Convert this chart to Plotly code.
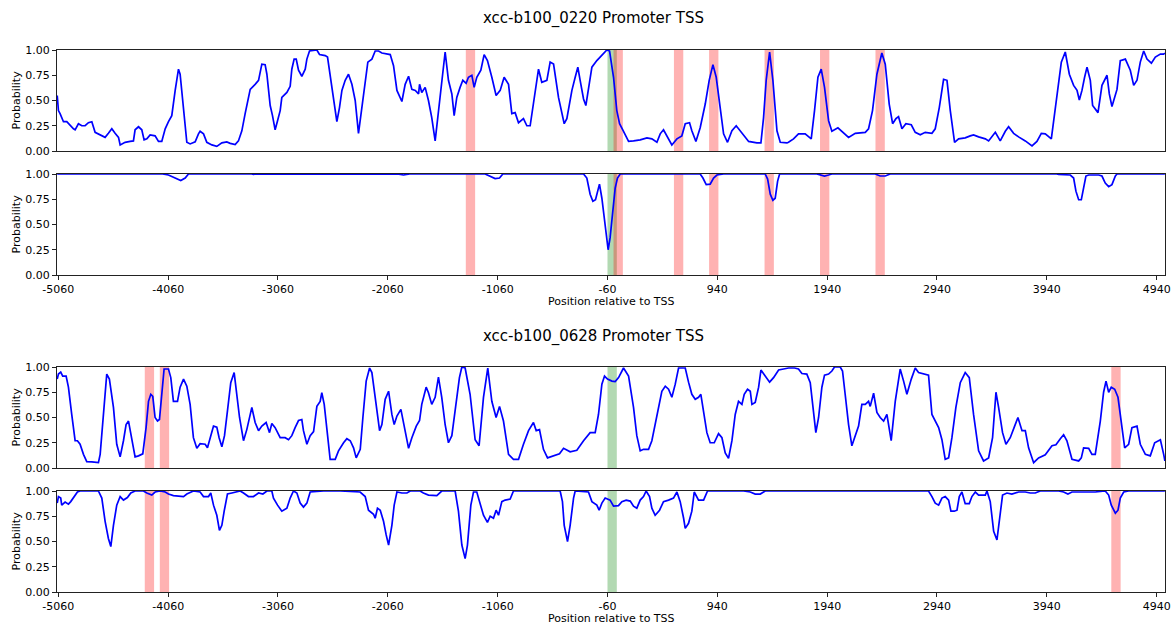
import plotly.graph_objects as go

# ---------------------------------------------------------------------------
# xcc-b100_0220 : upper track (promoter probability) and lower track
# ---------------------------------------------------------------------------
pos_0220_upper = [
    -5070, -5059, -5044, -5029, -5013, -4983, -4953, -4922, -4907, -4877, -4846, -4816, -4786, -4755,
    -4725, -4679, -4634, -4604, -4573, -4543, -4512, -4497, -4452, -4406, -4376, -4361, -4330, -4300,
    -4279, -4254, -4224, -4179, -4148, -4118, -4087, -4057, -4027, -3996, -3966, -3951, -3920, -3890,
    -3860, -3814, -3784, -3769, -3738, -3708, -3662, -3617, -3571, -3526, -3495, -3450, -3420, -3389,
    -3359, -3313, -3268, -3237, -3207, -3177, -3161, -3131, -3110, -3086, -3064, -3040, -3025, -2979,
    -2949, -2934, -2913, -2894, -2873, -2843, -2812, -2797, -2773, -2706, -2682, -2630, -2609, -2585,
    -2554, -2524, -2500, -2478, -2448, -2418, -2387, -2357, -2327, -2296, -2266, -2242, -2205, -2175,
    -2144, -2114, -2038, -2008, -1977, -1932, -1902, -1871, -1841, -1810, -1780, -1771,
    -1751, -1720, -1690, -1660, -1629, -1599, -1569, -1538, -1508, -1477, -1456, -1432, -1402, -1377,
    -1347, -1326, -1295, -1274, -1250, -1213, -1183, -1153, -1113, -1074, -1037, -1001, -961, -931,
    -901, -870, -825, -794, -764, -728, -688, -658, -612, -582, -551, -506, -454, -430, -384, -354,
    -330, -309, -278, -257, -233, -202, -157, -126, -96, -66, -41, -5, 25, 50, 86, 132, 177, 238, 299,
    344, 390, 420, 450, 481, 526, 572, 617, 648, 687, 708, 745, 784, 830, 866, 900, 930, 966, 997,
    1033, 1073, 1112, 1149, 1179, 1225, 1300, 1337, 1361, 1385, 1416, 1446, 1483, 1513, 1574,
    1588, 1634, 1679, 1740, 1795, 1825, 1856, 1886, 1916, 1953, 1983, 2038, 2074, 2135, 2196, 2287,
    2317, 2353, 2393, 2438, 2469, 2505, 2536, 2566, 2590, 2621, 2657, 2706, 2742, 2788, 2833, 2894,
    2924, 2961, 3000, 3031, 3061, 3100, 3137, 3197, 3243, 3273, 3319, 3380, 3410, 3471, 3516, 3562,
    3592, 3638, 3683, 3744, 3805, 3850, 3890, 3926, 3981, 4011, 4041, 4072, 4108, 4145, 4184, 4215,
    4236, 4260, 4284, 4306, 4336, 4357, 4406, 4442, 4488, 4509, 4533, 4579, 4609, 4655, 4700, 4731,
    4761, 4791, 4822, 4852, 4892, 4928, 4974, 5004, 5015,
]
prob_0220_upper = [
    0.55, 0.40, 0.37, 0.32, 0.29, 0.29, 0.25, 0.22, 0.21, 0.27, 0.25, 0.25, 0.28, 0.29,
    0.185, 0.16, 0.135, 0.175, 0.22, 0.175, 0.135, 0.06, 0.086, 0.095, 0.10, 0.21, 0.24, 0.21,
    0.11, 0.12, 0.16, 0.15, 0.095, 0.095, 0.22, 0.29, 0.35, 0.60, 0.81, 0.76, 0.40, 0.086,
    0.07, 0.09, 0.17, 0.195, 0.17, 0.086, 0.06, 0.046, 0.08, 0.09, 0.076, 0.063, 0.10, 0.20,
    0.37, 0.61, 0.66, 0.70, 0.86, 0.855, 0.76, 0.45, 0.35, 0.21, 0.30, 0.40, 0.53, 0.58,
    0.64, 0.81, 0.91, 0.91, 0.80, 0.74, 0.81, 0.91, 0.99, 1.0, 0.955, 0.945, 0.93, 0.76,
    0.53, 0.29, 0.43, 0.60, 0.70, 0.76, 0.66, 0.50, 0.175, 0.43, 0.73, 0.88, 0.91, 0.99,
    0.99, 0.97, 0.955, 0.845, 0.60, 0.49, 0.66, 0.74, 0.61, 0.60, 0.565, 0.66,
    0.58, 0.63, 0.50, 0.33, 0.10, 0.40, 0.70, 0.98, 0.70, 0.565, 0.35, 0.53, 0.63, 0.70,
    0.67, 0.73, 0.75, 0.63, 0.73, 0.80, 0.955, 0.895, 0.73, 0.55, 0.60, 0.73, 0.66, 0.37,
    0.38, 0.28, 0.32, 0.25, 0.25, 0.50, 0.81, 0.68, 0.70, 0.88, 0.86, 0.53, 0.27, 0.32, 0.60, 0.73,
    0.83, 0.70, 0.515, 0.45, 0.63, 0.83, 0.895, 0.93, 0.96, 1.0, 0.99, 0.73, 0.40, 0.27, 0.195, 0.095, 0.10, 0.11, 0.13,
    0.12, 0.086, 0.17, 0.21, 0.15, 0.06, 0.12, 0.15, 0.27, 0.28, 0.20, 0.095, 0.23, 0.465, 0.70, 0.855, 0.73, 0.40, 0.17,
    0.086, 0.20, 0.25, 0.20, 0.16, 0.095, 0.08, 0.08, 0.33, 0.70, 0.98, 0.70, 0.20, 0.086, 0.08,
    0.086, 0.12, 0.17, 0.17, 0.12, 0.40, 0.73, 0.81, 0.63, 0.30, 0.195, 0.23, 0.195, 0.135, 0.175, 0.185,
    0.22, 0.40, 0.76, 0.97, 0.86, 0.465, 0.27, 0.32, 0.34, 0.22, 0.27, 0.26, 0.185, 0.16, 0.185, 0.175,
    0.22, 0.43, 0.71, 0.70, 0.40, 0.086, 0.12, 0.13, 0.15, 0.16, 0.14, 0.12, 0.10, 0.185, 0.10, 0.195,
    0.24, 0.175, 0.14, 0.10, 0.05, 0.095, 0.175, 0.17, 0.12, 0.37, 0.565, 0.88, 0.98, 0.76, 0.65, 0.60,
    0.505, 0.60, 0.73, 0.83, 0.70, 0.45, 0.38, 0.65, 0.75, 0.565, 0.44, 0.61, 0.895, 0.91, 0.80, 0.65,
    0.70, 0.88, 0.99, 0.91, 0.87, 0.93, 0.96, 0.96, 0.97,
]

pos_0220_lower = [
    -5070, -4110, -4057, -4012, -3945, -3905, -3875, -3300, -3283, -3260, -2060, -2040, -1960, -1917,
    -1886, -1860, -1174, -1128, -1083, -1043, -1013, -278, -248, -218, -193, -169, -151, -133, -111,
    -81, -54, -36, -11, 10, 31, 56, 784, 809, 839, 875, 906, 936, 997, 1376, 1398, 1422, 1446, 1467,
    1489, 1507, 1846, 1877, 1916, 1953, 1983, 2378, 2423, 2469, 2514, 4030, 4048, 4154, 4184, 4205,
    4230, 4254, 4275, 4296, 4321, 4412, 4442, 4472, 4503, 4533, 4564, 4579, 5015,
]
prob_0220_lower = [
    1.0, 1.0, 0.99, 0.97, 0.935, 0.96, 1.0, 1.0, 0.995, 1.0, 1.0, 0.995, 0.998, 0.99,
    0.995, 1.0, 1.0, 0.98, 0.955, 0.96, 1.0, 1.0, 0.96, 0.80, 0.73, 0.745, 0.83, 0.90, 0.76,
    0.48, 0.25, 0.37, 0.66, 0.86, 0.96, 1.0, 1.0, 0.96, 0.895, 0.90, 0.96, 0.99, 1.0, 1.0, 0.95, 0.80, 0.74, 0.76,
    0.93, 1.0, 1.0, 0.99, 0.98, 0.99, 1.0, 1.0, 0.98, 0.98, 1.0, 1.0, 0.995, 0.99, 0.96, 0.83,
    0.745, 0.745, 0.86, 0.98, 0.99, 0.99, 0.98, 0.91, 0.875, 0.895, 0.98, 1.0, 1.0,
]

# ---------------------------------------------------------------------------
# xcc-b100_0628 : upper and lower tracks
# ---------------------------------------------------------------------------
pos_0628_upper = [
    -5070, -5059, -5038, -5020, -4989, -4968, -4938, -4907, -4886, -4862, -4831, -4801, -4755, -4695,
    -4679, -4649, -4619, -4595, -4558, -4528, -4497, -4467, -4443, -4421, -4391, -4361, -4330, -4291,
    -4261, -4239, -4218, -4200, -4179, -4157, -4139, -4118, -4097, -4057, -4036, -4012, -3975, -3951,
    -3920, -3890, -3860, -3830, -3799, -3769, -3723, -3702, -3678, -3647, -3617, -3596, -3571, -3547,
    -3520, -3490, -3459, -3435, -3410, -3374, -3344, -3298, -3268, -3237, -3207, -3168, -3137, -3116,
    -3086, -3040, -2995, -2964, -2934, -2904, -2873, -2843, -2828, -2797, -2767, -2736, -2706, -2676,
    -2661, -2639, -2615, -2585, -2539, -2509, -2463, -2433, -2402, -2372, -2348, -2311, -2287, -2257,
    -2226, -2205, -2175, -2135, -2114, -2084, -2053, -2023, -2002, -1977, -1941, -1911, -1871, -1841,
    -1801, -1771,
    -1751, -1711, -1690, -1660, -1629, -1599, -1569, -1538, -1508, -1477, -1447, -1408, -1386, -1356,
    -1311, -1265, -1229, -1189, -1150, -1113, -1074, -1043, -1007, -961, -916, -870, -825, -779, -734,
    -709, -679, -643, -606, -552, -497, -460, -400, -339, -278, -218, -172, -142, -111, -87, -60, -20,
    10, 41, 86, 132, 177, 207, 238, 268, 314, 344, 390, 435, 466, 496, 526, 557, 587, 648, 678, 708,
    739, 769, 790, 815, 845, 875, 912, 951, 982, 1012, 1042, 1073, 1103, 1133, 1164, 1185, 1215, 1240,
    1255, 1285, 1316, 1337, 1376, 1416, 1452, 1498, 1543, 1589,
    1643, 1679, 1710, 1755, 1786, 1816, 1837, 1862, 1892, 1916, 1953, 1983, 2007, 2059, 2080, 2104,
    2135, 2165, 2196, 2226, 2256, 2287, 2317, 2332, 2363, 2393, 2423, 2454, 2484, 2523, 2560, 2605,
    2636, 2666, 2706, 2742, 2772, 2833, 2863, 2894, 2955, 2985, 3015, 3046, 3076, 3112, 3152, 3197,
    3234, 3273, 3319, 3364, 3410, 3446, 3477, 3501, 3537, 3568, 3607, 3647, 3677, 3714, 3744, 3774,
    3820, 3865, 3926, 3987, 4023, 4063, 4093, 4123, 4169, 4230, 4254, 4275, 4321, 4351, 4381, 4427,
    4457, 4479, 4503, 4527, 4558, 4588, 4618, 4649, 4685, 4715, 4761, 4791, 4837, 4882, 4922, 4952,
    4974, 5004, 5015,
]
prob_0628_upper = [
    0.88, 0.93, 0.95, 0.91, 0.91, 0.80, 0.53, 0.27, 0.27, 0.235, 0.135, 0.063, 0.06, 0.053,
    0.135, 0.565, 0.93, 0.88, 0.60, 0.235, 0.11, 0.27, 0.43, 0.465, 0.30, 0.11, 0.12, 0.14,
    0.40, 0.66, 0.73, 0.71, 0.50, 0.465, 0.48, 0.76, 0.98, 0.98, 0.895, 0.66, 0.66, 0.80,
    0.88, 0.81, 0.63, 0.30, 0.195, 0.24, 0.235, 0.20, 0.30, 0.415, 0.405, 0.30, 0.21, 0.32,
    0.565, 0.845, 0.945, 0.73, 0.50, 0.27, 0.38, 0.60, 0.45, 0.37, 0.415, 0.45, 0.35, 0.44,
    0.40, 0.30, 0.30, 0.28, 0.32, 0.40, 0.47, 0.48, 0.37, 0.235, 0.32, 0.36, 0.61, 0.66,
    0.745, 0.63, 0.37, 0.086, 0.086, 0.17, 0.25, 0.29, 0.27, 0.20, 0.10, 0.185, 0.50, 0.86,
    0.99, 0.945, 0.70, 0.37, 0.43, 0.68, 0.76, 0.53, 0.43, 0.515, 0.58, 0.415, 0.195, 0.30,
    0.415, 0.47,
    0.63, 0.80, 0.745, 0.63, 0.70, 0.90, 0.70, 0.43, 0.25, 0.32, 0.565, 0.895, 1.0, 0.99,
    0.73, 0.28, 0.22, 0.70, 0.99, 0.66, 0.50, 0.61, 0.465, 0.135, 0.086, 0.086, 0.235, 0.37, 0.45,
    0.37, 0.38, 0.185, 0.10, 0.12, 0.14, 0.195, 0.16, 0.175, 0.27, 0.35, 0.35, 0.53, 0.83, 0.91, 0.88, 0.86,
    0.855, 0.895, 0.99, 0.91, 0.60, 0.32, 0.17, 0.185, 0.185, 0.27, 0.53, 0.76, 0.81, 0.78, 0.70, 0.83, 0.99, 0.99, 0.85, 0.73,
    0.68, 0.70, 0.73, 0.565, 0.35, 0.25, 0.25, 0.34, 0.30, 0.15, 0.095, 0.27, 0.53, 0.66, 0.63, 0.73, 0.78, 0.76,
    0.63, 0.65, 0.80, 0.97, 0.91, 0.85, 0.895, 0.97, 0.98, 0.99,
    0.99, 0.98, 0.935, 0.93, 0.845, 0.515, 0.35, 0.50, 0.80, 0.92, 0.93, 0.96, 1.0, 1.0, 0.96, 0.73,
    0.43, 0.22, 0.33, 0.415, 0.63, 0.63, 0.66, 0.61, 0.74, 0.55, 0.50, 0.465, 0.53, 0.27, 0.66, 0.98,
    0.86, 0.73, 0.88, 0.99, 0.945, 0.93, 0.92, 0.53, 0.40, 0.28, 0.086, 0.10, 0.30, 0.60, 0.845, 0.945,
    0.895, 0.53, 0.17, 0.07, 0.10, 0.30, 0.75, 0.60, 0.35, 0.235, 0.30, 0.415, 0.50, 0.37, 0.37, 0.20,
    0.053, 0.10, 0.13, 0.22, 0.23, 0.29, 0.33, 0.27, 0.086, 0.07, 0.10, 0.20, 0.195, 0.135, 0.135, 0.465,
    0.75, 0.86, 0.75, 0.80, 0.78, 0.70, 0.43, 0.20, 0.235, 0.40, 0.415, 0.235, 0.135, 0.12, 0.25, 0.27,
    0.28, 0.135, 0.07,
]

pos_0628_lower = [
    -5070, -5059, -5038, -5029, -4998, -4968, -4947, -4922, -4886, -4862, -4695, -4664, -4634, -4604,
    -4582, -4558, -4528, -4497, -4467, -4431, -4400, -4361, -4285, -4254, -4209, -4179, -4133, -4087,
    -4057, -4012, -3951, -3920, -3890, -3830, -3769, -3738, -3693, -3672, -3647, -3617, -3593, -3571,
    -3550, -3520, -3480, -3435, -3404, -3374, -3329, -3283, -3237, -3198, -3161, -3116, -3101, -3064,
    -3025, -2979, -2949, -2919, -2888, -2858, -2828, -2797, -2767, -2645, -2494, -2312, -2266, -2236,
    -2190, -2175, -2154, -2129, -2099, -2075, -2053, -2023, -2002, -1977, -1932, -1886, -1856,
    -1766, -1736, -1690, -1644, -1614, -1569, -1447, -1417, -1386, -1356, -1335, -1304, -1280, -1250,
    -1219, -1189, -1153, -1128, -1098, -1074, -1052, -1022, -992, -946, -916, -491, -470, -454, -424,
    -400, -369, -354, -233, -202, -157, -136, -111, -81, -36, -5, 40, 71, 110, 147, 177, 207, 238, 268,
    292, 323, 344, 374, 414, 450, 496, 541, 572, 602, 633, 648, 678, 708, 730, 769, 815, 851, 1179,
    1240, 1285, 1331, 1376,
    2480, 2499, 2545, 2863, 2894, 2924, 2955, 2985, 3015, 3046, 3067, 3097, 3122, 3143, 3167, 3197,
    3234, 3258, 3289, 3319, 3380, 3395, 3425, 3456, 3486, 3516, 3537, 3577, 3622, 3683, 3744, 3789,
    3835, 3880, 4048, 4093, 4132, 4169, 4230, 4306, 4381, 4472, 4503, 4527, 4564, 4588, 4609, 4640,
    4685, 5015,
]
prob_0628_lower = [
    0.88, 0.945, 0.93, 0.86, 0.89, 0.87, 0.895, 0.93, 0.99, 1.0, 1.0, 0.93, 0.70, 0.53,
    0.45, 0.66, 0.86, 0.945, 0.91, 0.935, 0.98, 1.0, 1.0, 0.98, 0.96, 0.99, 1.0, 0.99,
    0.97, 0.955, 0.945, 0.945, 0.97, 1.0, 0.99, 0.945, 0.945, 0.98, 0.86, 0.76, 0.61, 0.66,
    0.80, 0.97, 0.98, 0.99, 1.0, 0.98, 0.945, 0.945, 0.98, 0.97, 1.0, 1.0, 0.93, 0.86,
    0.80, 0.83, 0.93, 1.0, 0.98, 0.88, 0.84, 0.88, 0.99, 1.0, 1.0, 0.99, 0.945, 0.81,
    0.77, 0.73, 0.83, 0.81, 0.70, 0.565, 0.465, 0.66, 0.86, 0.99, 0.98, 0.98, 1.0,
    1.0, 0.98, 0.96, 0.955, 0.955, 1.0, 1.0, 0.80, 0.465, 0.33, 0.465, 0.86, 0.99, 0.99,
    0.86, 0.76, 0.69, 0.75, 0.73, 0.81, 0.76, 0.895, 0.91, 0.92, 1.0, 1.0, 0.895, 0.66, 0.50,
    0.66, 0.93, 1.0, 0.99, 0.895, 0.86, 0.81, 0.88, 0.93, 0.91, 0.85, 0.855, 0.895, 0.91, 0.90, 0.85, 0.83, 0.91, 0.945,
    1.0, 0.945, 0.83, 0.76, 0.81, 0.895, 0.91, 0.93, 0.99, 0.895, 0.73, 0.63, 0.68, 0.80, 0.99, 0.91, 0.91, 1.0, 1.0,
    0.99, 0.97, 0.97, 1.0,
    1.0, 0.995, 1.0, 1.0, 0.945, 0.88, 0.86, 0.93, 0.945, 0.91, 0.80, 0.80, 0.81, 0.945, 0.99, 0.875,
    0.875, 0.945, 0.99, 0.96, 0.96, 1.0, 0.895, 0.60, 0.515, 0.80, 0.96, 0.98, 0.97, 0.99, 0.99, 0.98,
    0.98, 1.0, 1.0, 0.99, 0.97, 0.99, 0.99, 0.99, 0.99, 1.0, 0.96, 0.86, 0.78, 0.81, 0.93, 0.99,
    1.0, 1.0,
]

# Highlighted regions (start positions, each span is 85 bp wide)
red_starts_0220 = [-1350, -5, 545, 865, 1370, 1875, 2380]
red_starts_0628 = [-4273, -4136, 4527]
green_starts = [-60]
span_width = 85

titles = ["xcc-b100_0220 Promoter TSS", "xcc-b100_0628 Promoter TSS"]
x_tick_vals = [-5060, -4060, -3060, -2060, -1060, -60, 940, 1940, 2940, 3940, 4940]
x_tick_text = [str(v) for v in x_tick_vals]
y_tick_vals = [0.0, 0.25, 0.5, 0.75, 1.0]

# ---------------------------------------------------------------------------
W, H = 1176, 629
FONT = "DejaVu Sans"
X_LEFT, X_RIGHT = 57, 1165
# panel top/bottom edges in pixels
panel_px = [(50, 151), (174, 275), (367, 468), (491, 592)]

panels = [
    (pos_0220_upper, prob_0220_upper, red_starts_0220, False),
    (pos_0220_lower, prob_0220_lower, red_starts_0220, True),
    (pos_0628_upper, prob_0628_upper, red_starts_0628, False),
    (pos_0628_lower, prob_0628_lower, red_starts_0628, True),
]

fig = go.Figure()
shapes = []
layout_axes = {}
x_dom = [X_LEFT / W, X_RIGHT / W]

for i, ((pos, prob, reds, labelled), (top, bot)) in enumerate(zip(panels, panel_px), start=1):
    suffix = "" if i == 1 else str(i)
    xa, ya = f"x{suffix}", f"y{suffix}"
    fig.add_trace(go.Scatter(
        x=pos, y=prob, mode="lines",
        line=dict(color="#0000ff", width=1.7),
        xaxis=xa, yaxis=ya, showlegend=False, hoverinfo="skip",
    ))
    for s in green_starts:
        shapes.append(dict(type="rect", xref=xa, yref=f"{ya} domain", x0=s, x1=s + span_width,
                           y0=0, y1=1, fillcolor="rgba(0,128,0,0.3)", line=dict(width=0),
                           layer="below"))
    for s in reds:
        shapes.append(dict(type="rect", xref=xa, yref=f"{ya} domain", x0=s, x1=s + span_width,
                           y0=0, y1=1, fillcolor="rgba(255,0,0,0.3)", line=dict(width=0),
                           layer="below"))
    y_dom = [1 - bot / H, 1 - top / H]
    layout_axes[f"xaxis{suffix}"] = dict(
        domain=x_dom, anchor=ya, range=[-5072, 5016], automargin=False,
        showline=True, mirror=True, linecolor="#222", linewidth=1,
        showgrid=False, zeroline=False,
        tickmode="array", tickvals=x_tick_vals, ticktext=x_tick_text,
        ticks="outside" if labelled else "", ticklen=4, tickcolor="#222",
        showticklabels=labelled,
        tickfont=dict(family=FONT, size=11, color="black"),
    )
    layout_axes[f"yaxis{suffix}"] = dict(
        domain=y_dom, anchor=xa, range=[0, 1], automargin=False,
        showline=True, mirror=True, linecolor="#222", linewidth=1,
        showgrid=False, zeroline=False,
        tickmode="array", tickvals=y_tick_vals, ticktext=[f"{v:.2f}" for v in y_tick_vals],
        ticks="outside", ticklen=4, tickcolor="#222",
        tickfont=dict(family=FONT, size=11, color="black"),
    )

annotations = []
# Section titles
for title, ypx in zip(titles, [19, 336]):
    annotations.append(dict(text=title, x=594 / W, y=1 - ypx / H, xref="paper", yref="paper",
                            showarrow=False, xanchor="center", yanchor="middle",
                            font=dict(family=FONT, size=15, color="black")))
# x-axis titles under the lower tracks
for ypx in [301, 618]:
    annotations.append(dict(text="Position relative to TSS", x=611 / W, y=1 - ypx / H,
                            xref="paper", yref="paper", showarrow=False,
                            xanchor="center", yanchor="middle",
                            font=dict(family=FONT, size=11, color="black")))
# y-axis titles
for top, bot in panel_px:
    annotations.append(dict(text="Probability", x=16 / W, y=1 - (top + bot) / 2 / H,
                            xref="paper", yref="paper", showarrow=False, textangle=-90,
                            xanchor="center", yanchor="middle",
                            font=dict(family=FONT, size=11, color="black")))

fig.update_layout(
    width=W, height=H,
    margin=dict(l=0, r=0, t=0, b=0),
    paper_bgcolor="white", plot_bgcolor="white",
    shapes=shapes, annotations=annotations,
    font=dict(family=FONT, size=11, color="black"),
    **layout_axes,
)

fig.write_html("out.html")
